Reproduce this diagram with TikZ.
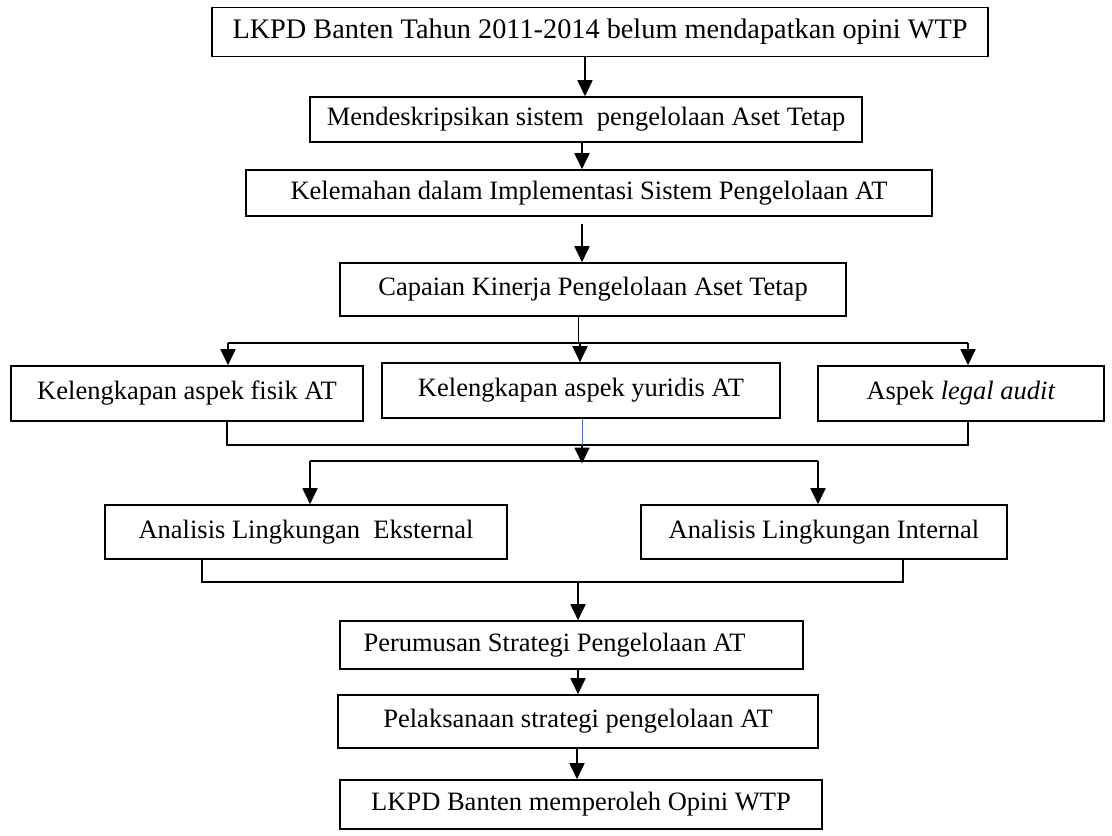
\documentclass[tikz,border=0pt]{standalone}
\usepackage{fontspec}
\setmainfont{Liberation Serif}
\usetikzlibrary{arrows.meta,calc}
\begin{document}
\begin{tikzpicture}[x=1pt,y=-1pt,
  box/.style={draw,line width=1.6pt,inner sep=0pt,font=\fontsize{26.5}{30}\selectfont},
  conn/.style={line width=1.8pt},
  arr/.style={line width=1.8pt,-{Triangle[width=15pt,length=16pt]}},
  thin/.style={line width=1pt}]
\useasboundingbox (0,0) rectangle (1112,836);
\node[box,minimum width=776pt,minimum height=49pt,font=\fontsize{28.3}{30}\selectfont] (b1) at (600,32) {LKPD Banten Tahun 2011-2014 belum mendapatkan opini WTP};
\node[box,minimum width=552pt,minimum height=45pt] (b2) at (586,119.5) {Mendeskripsikan sistem\ \ pengelolaan Aset Tetap};
\node[box,minimum width=686pt,minimum height=46pt] (b3) at (589,193) {Kelemahan dalam Implementasi Sistem Pengelolaan AT};
\node[box,minimum width=506pt,minimum height=53pt] (b4) at (593,289.5) {Capaian Kinerja Pengelolaan Aset Tetap};
\node[box,minimum width=352pt,minimum height=55pt] (b5a) at (187,393.5) {Kelengkapan aspek fisik AT};
\node[box,minimum width=398pt,minimum height=55pt] (b5b) at (581,390.5) {Kelengkapan aspek yuridis AT};
\node[box,minimum width=286pt,minimum height=55pt] (b5c) at (961,393.5) {Aspek \textit{legal audit}};
\node[box,minimum width=402pt,minimum height=54pt] (b6a) at (306,532) {Analisis Lingkungan\ \ Eksternal};
\node[box,minimum width=366pt,minimum height=54pt] (b6b) at (824,532) {Analisis Lingkungan Internal};
\node[box,minimum width=463pt,minimum height=48pt] (b7) at (571.5,645) {Perumusan Strategi Pengelolaan AT\hspace*{34pt}};
\node[box,minimum width=480pt,minimum height=53pt] (b8) at (578,721.5) {Pelaksanaan strategi pengelolaan AT};
\node[box,minimum width=482pt,minimum height=49pt] (b9) at (581,804.5) {LKPD Banten memperoleh Opini WTP};
% top chain
\draw[arr] (b1.south -| 585,0) -- (b2.north -| 585,0);
\draw[arr] (b2.south -| 582,0) -- (b3.north -| 582,0);
\coordinate (g3) at (582,224);
\draw[arr] (g3) -- (b4.north -| g3);
% branch 1
\coordinate (s1) at (578,343);
\coordinate (l1) at (228,343);
\coordinate (r1) at (968,343);
\draw[thin] (b4.south -| s1) -- (s1);
\draw[conn] (l1) -- (r1);
\draw[arr] (l1) -- (b5a.north -| l1);
\draw[arr] (580,343) coordinate (m1) -- (b5b.north -| m1);
\draw[arr] (r1) -- (b5c.north -| r1);
% merge 1
\coordinate (ml) at (227,445);
\coordinate (mr) at (968,445);
\coordinate (mc) at (582,445);
\draw[conn] (b5a.south -| ml) -- (ml) -- (mr) -- (b5c.south -| mr);
\draw[line width=0.8pt,color={rgb,255:red,68;green,114;blue,196}] (b5b.south -| mc) -- (mc);
\draw[arr] (mc) -- (582,463.5) coordinate (t2);
\coordinate (l2) at (310,461);
\coordinate (r2) at (818,461);
\draw[conn] (l2) -- (r2);
\draw[arr] (l2) -- (b6a.north -| l2);
\draw[arr] (r2) -- (b6b.north -| r2);
% merge 2
\coordinate (nl) at (202,582);
\coordinate (nr) at (903,582);
\coordinate (nc) at (578,582);
\draw[conn] (b6a.south -| nl) -- (nl) -- (nr) -- (b6b.south -| nr);
\draw[arr] (nc) -- (b7.north -| nc);
% bottom chain
\draw[arr] (b7.south -| 578,0) -- (b8.north -| 578,0);
\draw[arr] (b8.south -| 577,0) -- (b9.north -| 577,0);
\end{tikzpicture}
\end{document}
